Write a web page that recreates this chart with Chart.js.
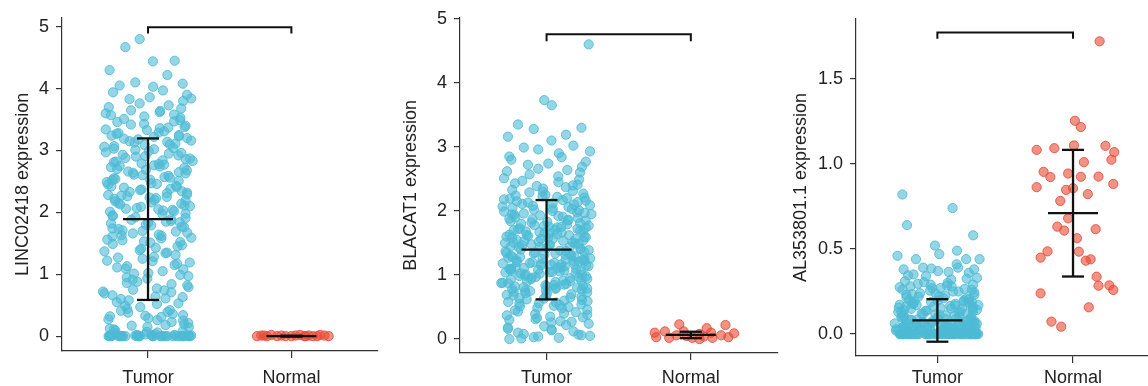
<!DOCTYPE html>
<html>
<head>
<meta charset="utf-8">
<script src="https://cdn.jsdelivr.net/npm/chart.js@4.4.0/dist/chart.umd.min.js"></script>
<style>
  body { margin: 0; width: 1148px; height: 386px; overflow: hidden; background: #fff; position: relative; }
  canvas { position: absolute; top: 0; }
</style>
</head>
<body>
<canvas id="c1" width="383" height="386" style="left:0"></canvas>
<canvas id="c2" width="400" height="386" style="left:383px"></canvas>
<canvas id="c3" width="390" height="386" style="left:770px"></canvas>
<script>
const groups = ['Tumor', 'Normal'];

// ---- panel 1: LINC02418 ----
const p1Ticks = [0, 1, 2, 3, 4, 5];
const p1TumorY = [
  0, 0, 0.01, 0, 0, 0.02, 0, 0, 0, 0.01, 0, 0, 0, 0.03, 0, 0, 0, 0.01, 0, 0,
  0.02, 0, 0, 0, 0, 0.01, 0, 0, 0, 0.02, 0, 0, 0.01, 0, 0, 0, 0, 0.03, 0, 0,
  0.06, 0.12, 0.18, 0.25, 0.33, 0.41, 0.08, 0.15, 0.27, 0.36, 0.44, 0.21, 0.09, 0.31, 0.47,
  0.14, 0.38, 0.23, 0.05, 0.29, 0.42, 0.17, 0.34, 0.11, 0.26, 0.49, 0.19, 0.07, 0.39, 0.32,
  0.52, 0.58, 0.63, 0.66, 0.71, 0.75, 0.82, 0.86, 0.93, 0.97, 0.55, 0.61, 0.69,
  0.74, 0.79, 0.88, 0.95, 0.53, 0.64, 0.72, 0.84, 0.91, 0.99, 0.6, 0.77,
  1.02, 1.08, 1.13, 1.17, 1.22, 1.28, 1.34, 1.39, 1.45, 1.49, 1.05, 1.11, 1.19,
  1.25, 1.31, 1.37, 1.43, 1.01, 1.15, 1.27, 1.35, 1.41, 1.47, 1.09, 1.21,
  1.52, 1.55, 1.58, 1.61, 1.64, 1.67, 1.7, 1.73, 1.76, 1.79, 1.82, 1.85, 1.88, 1.91, 1.94, 1.97, 1.53, 1.59,
  1.63, 1.69, 1.74, 1.8, 1.86, 1.92, 1.98, 1.56, 1.62, 1.71, 1.77, 1.83, 1.89, 1.95, 1.51, 1.66, 1.84,
  2.01, 2.04, 2.07, 2.1, 2.13, 2.16, 2.19, 2.22, 2.25, 2.28, 2.31, 2.34, 2.37, 2.4, 2.43, 2.46, 2.49, 2.02, 2.06, 2.11,
  2.15, 2.2, 2.24, 2.29, 2.33, 2.38, 2.42, 2.47, 2.03, 2.09, 2.14, 2.18, 2.23, 2.27, 2.32, 2.36, 2.41, 2.45, 2.05, 2.26,
  2.51, 2.54, 2.57, 2.6, 2.63, 2.66, 2.69, 2.72, 2.75, 2.78, 2.81, 2.84, 2.87, 2.9, 2.93, 2.96, 2.99, 2.52, 2.56, 2.61,
  2.65, 2.7, 2.74, 2.79, 2.83, 2.88, 2.92, 2.97, 2.53, 2.59, 2.64, 2.68, 2.73, 2.77, 2.82, 2.86, 2.91, 2.95, 2.55, 2.76,
  3.01, 3.04, 3.07, 3.1, 3.13, 3.16, 3.19, 3.22, 3.25, 3.28, 3.31, 3.34, 3.37, 3.4, 3.43, 3.46, 3.49, 3.02,
  3.06, 3.11, 3.15, 3.2, 3.24, 3.29, 3.33, 3.38, 3.42, 3.47, 3.03, 3.09, 3.14, 3.18, 3.23, 3.27, 3.36,
  3.51, 3.53, 3.55, 3.58, 3.6, 3.62, 3.65, 3.68, 3.7, 3.73, 3.76, 3.8, 3.83, 3.86, 3.9, 3.94, 3.97, 3.57, 3.64, 3.84,
  4.8, 4.67, 4.45, 4.44, 4.3, 4.22, 4.1, 4.08, 4.05, 4.03
];
const p1NormalY = [0, 0.01, 0, 0.02, 0, 0.01, 0, 0, 0.01, 0.02, 0, 0.01, 0, 0, 0.02, 0.01, 0, 0.01, 0];
const p1NormalX = [-0.24, -0.21, -0.17, -0.14, -0.1, -0.07, -0.04, 0, 0.03, 0.06, 0.09, 0.12, 0.15, 0.18, 0.2, 0.23, 0.26, -0.19, 0.1];
const p1Mean = [1.89, 0.0];
const p1Sd = [1.305, 0.008];

// ---- panel 2: BLACAT1 ----
const p2Ticks = [0, 1, 2, 3, 4, 5];
const p2TumorY = [
  0.0, 0.02, 0.05, 0.04, 0.08, 0.12, 0.15, 0.18, 0.22, 0.03, 0.06, 0.1, 0.14, 0.2, 0.24, 0.01, 0.07, 0.16,
  0.26, 0.28, 0.31, 0.34, 0.37, 0.4, 0.43, 0.46, 0.49, 0.27, 0.3, 0.35, 0.39, 0.42, 0.45, 0.48, 0.33, 0.38,
  0.51, 0.52, 0.54, 0.55, 0.57, 0.58, 0.6, 0.61, 0.63, 0.64, 0.66, 0.67, 0.69, 0.7, 0.72, 0.73, 0.74,
  0.53, 0.56, 0.59, 0.62, 0.65, 0.68, 0.71, 0.5,
  0.75, 0.77, 0.78, 0.8, 0.81, 0.83, 0.84, 0.86, 0.87, 0.89, 0.9, 0.92, 0.93, 0.95, 0.96, 0.98, 0.99, 0.76,
  0.79, 0.82, 0.85, 0.88, 0.91, 0.94, 0.97, 0.755, 0.805, 0.845, 0.875, 0.905, 0.935, 0.965, 0.985, 0.785, 0.825,
  1.0, 1.01, 1.03, 1.04, 1.05, 1.07, 1.08, 1.09, 1.1, 1.12, 1.13, 1.14, 1.15, 1.17, 1.18, 1.19, 1.2, 1.22, 1.23, 1.24,
  1.02, 1.06, 1.11, 1.16, 1.21, 1.025, 1.055, 1.085, 1.115, 1.145, 1.175, 1.205, 1.235, 1.045, 1.095, 1.135, 1.185, 1.215, 1.065, 1.165,
  1.25, 1.26, 1.28, 1.29, 1.3, 1.32, 1.33, 1.34, 1.36, 1.37, 1.38, 1.4, 1.41, 1.42, 1.44, 1.45, 1.46, 1.48,
  1.49, 1.27, 1.31, 1.35, 1.39, 1.43, 1.47, 1.255, 1.285, 1.315, 1.345, 1.375, 1.405, 1.435, 1.465, 1.495, 1.335,
  1.5, 1.51, 1.53, 1.54, 1.55, 1.57, 1.58, 1.59, 1.61, 1.62, 1.63, 1.65, 1.66, 1.67, 1.69, 1.7, 1.71, 1.73,
  1.74, 1.52, 1.56, 1.6, 1.64, 1.68, 1.72, 1.505, 1.535, 1.565, 1.595, 1.625, 1.655, 1.685, 1.715, 1.745, 1.585,
  1.75, 1.77, 1.78, 1.8, 1.81, 1.83, 1.84, 1.86, 1.87, 1.89, 1.9, 1.92, 1.93, 1.95,
  1.96, 1.98, 1.99, 1.76, 1.79, 1.82, 1.85, 1.88, 1.91, 1.94, 1.97, 1.765, 1.855, 1.945,
  2.0, 2.02, 2.03, 2.05, 2.06, 2.08, 2.09, 2.11, 2.12, 2.14, 2.15, 2.17, 2.18,
  2.2, 2.21, 2.23, 2.24, 2.01, 2.04, 2.07, 2.1, 2.13, 2.16, 2.19, 2.22,
  2.25, 2.27, 2.29, 2.31, 2.33, 2.35, 2.37, 2.39, 2.41, 2.43, 2.45, 2.47, 2.49, 2.3, 2.4,
  2.51, 2.54, 2.57, 2.6, 2.62, 2.64, 2.66, 2.69, 2.72, 2.74,
  2.77, 2.8, 2.84, 2.85, 2.9, 2.93, 2.96, 2.99,
  3.02, 3.1, 3.16, 3.19, 3.28, 3.3, 3.35,
  3.65, 3.73, 4.6
];
const p2NormalY = [0.10, 0.03, 0.12, 0.02, 0.06, 0.23, 0.05, 0.02, 0.08, 0.04, 0.17, 0.10, 0.02, 0.06, 0.22, 0.03, 0.09, 0.12, 0.0];
const p2NormalX = [-0.25, -0.24, -0.18, -0.15, -0.1, -0.08, -0.03, 0.01, 0.06, 0.09, 0.11, 0.14, 0.15, 0.21, 0.24, 0.26, 0.3, -0.05, 0.06];
const p2Mean = [1.395, 0.065];
const p2Sd = [0.775, 0.05];

// ---- panel 3: AL353801.1 ----
const p3Ticks = [0, 0.5, 1.0, 1.5];
const p3TumorY = [
  0, 0, 0, 0, 0, 0, 0, 0, 0, 0, 0, 0, 0, 0, 0, 0, 0, 0, 0, 0,
  0, 0, 0, 0, 0, 0, 0, 0, 0, 0, 0, 0, 0, 0, 0, 0, 0, 0, 0, 0,
  0, 0, 0, 0, 0, 0, 0, 0, 0, 0, 0, 0, 0, 0, 0, 0, 0, 0, 0, 0,
  0.01, 0.02, 0.03, 0.04, 0.05, 0.06, 0.07, 0.08, 0.09, 0.1,
  0.015, 0.025, 0.035, 0.045, 0.055, 0.065, 0.075, 0.085, 0.095, 0.012,
  0.018, 0.022, 0.028, 0.033, 0.038, 0.042, 0.048, 0.052, 0.058, 0.062,
  0.068, 0.072, 0.078, 0.082, 0.088, 0.092, 0.098, 0.011, 0.016, 0.021,
  0.026, 0.031, 0.036, 0.041, 0.046, 0.051, 0.056, 0.061, 0.066, 0.071,
  0.02, 0.03, 0.04, 0.05, 0.06, 0.01, 0.02, 0.03, 0.04, 0.05,
  0.014, 0.024, 0.034, 0.044, 0.054, 0.064, 0.074, 0.084, 0.094, 0.019,
  0.1, 0.11, 0.12, 0.13, 0.14, 0.15, 0.16, 0.17, 0.18, 0.19,
  0.105, 0.115, 0.125, 0.135, 0.145, 0.155, 0.165, 0.175, 0.185, 0.195,
  0.102, 0.108, 0.112, 0.118, 0.122, 0.128, 0.132, 0.138, 0.142, 0.148,
  0.152, 0.158, 0.162, 0.168, 0.172, 0.178, 0.182, 0.188, 0.192, 0.198,
  0.11, 0.13, 0.15, 0.17, 0.19,
  0.2, 0.21, 0.22, 0.23, 0.24, 0.25, 0.26, 0.27, 0.28, 0.29,
  0.205, 0.215, 0.225, 0.235, 0.245, 0.255, 0.265, 0.275, 0.285, 0.295,
  0.21, 0.23, 0.25, 0.27, 0.29, 0.22, 0.24, 0.26, 0.28, 0.3,
  0.31, 0.32, 0.33, 0.34, 0.35, 0.36, 0.37, 0.38, 0.39, 0.305, 0.325, 0.345, 0.365, 0.385,
  0.44, 0.44, 0.44, 0.46, 0.47, 0.41, 0.39, 0.38,
  0.82, 0.74, 0.64, 0.58, 0.52, 0.49
];
const p3NormalY = [
  1.72, 1.253, 1.216, 1.082, 1.092, 1.108, 1.106, 1.069, 1.024, 1.01,
  0.953, 0.922, 0.943, 0.924, 0.925, 0.882, 0.863, 0.847, 0.857, 0.822,
  0.782, 0.68, 0.631, 0.608, 0.616, 0.563, 0.486, 0.449, 0.484, 0.431,
  0.439, 0.337, 0.284, 0.286, 0.259, 0.239, 0.157, 0.073, 0.043
];
const p3NormalX = [
  0.196, 0.014, 0.058, -0.268, -0.138, 0.007, 0.239, 0.304, 0.283, 0.08,
  -0.217, -0.167, -0.036, 0.058, 0.188, 0.297, -0.268, -0.051, 0, 0.109,
  -0.094, -0.036, -0.116, -0.065, 0.167, 0.029, -0.188, -0.239, 0.043, 0.094,
  0.13, 0.174, 0.188, 0.268, 0.297, -0.239, 0.116, -0.159, -0.087
];
const p3Mean = [0.08, 0.71];
const p3Sd = [0.125, 0.372];

// horizontal jitter for the large tumour groups: a coarse and a fine offset list
const jitterCoarse = [-0.27, 0.11, 0.27, -0.05, -0.18, 0.22, 0.03, -0.28, 0.16, -0.12, 0.25, -0.22, 0.07, -0.02, 0.28,
  -0.15, 0.19, -0.26, 0.01, 0.13, -0.08, 0.24, -0.25, 0.09, -0.19, 0.26, -0.03, 0.17, -0.27, 0.05, -0.11, 0.21,
  -0.24, 0.14, -0.07, 0.27, -0.16, 0.02, 0.25, -0.21, 0.1];
const jitterFine = [0.012, -0.025, 0.031, -0.008, 0.022, -0.034, 0.004];

const TEXT = '#222';
const FONT = "'Liberation Sans', Arial, sans-serif";
const blue = 'rgba(77,187,213,0.6)', blueEdge = 'rgba(77,187,213,0.85)';
const red = 'rgba(230,75,53,0.6)', redEdge = 'rgba(230,75,53,0.85)';

const overlay = {
  id: 'overlay',
  afterDatasetsDraw(chart, args, o) {
    const { ctx, scales: { x, y } } = chart;
    const seg = (x1, y1, x2, y2) => { ctx.beginPath(); ctx.moveTo(x1, y1); ctx.lineTo(x2, y2); ctx.stroke(); };
    ctx.save();
    ctx.strokeStyle = '#111';
    ctx.lineWidth = 2.3;
    o.mean.forEach((m, i) => {
      const cx = x.getPixelForValue(i);
      const ym = y.getPixelForValue(m);
      const yt = y.getPixelForValue(m + o.sd[i]);
      const yb = y.getPixelForValue(m - o.sd[i]);
      seg(cx, yt, cx, yb);
      seg(cx - 11, yt, cx + 11, yt);
      seg(cx - 11, yb, cx + 11, yb);
      seg(cx - 25, ym, cx + 25, ym);
    });
    // significance bracket
    ctx.lineWidth = 2;
    const bt = y.getPixelForValue(o.bracket[0]), bl = y.getPixelForValue(o.bracket[1]);
    const x0 = x.getPixelForValue(0), x1 = x.getPixelForValue(1);
    ctx.beginPath();
    ctx.moveTo(x0, bl); ctx.lineTo(x0, bt); ctx.lineTo(x1, bt); ctx.lineTo(x1, bl);
    ctx.stroke();
    ctx.restore();
  }
};

function makePanel(id, cfg) {
  const tumorPts = cfg.tumorY.map((v, i) => ({
    x: jitterCoarse[i % jitterCoarse.length] + jitterFine[i % jitterFine.length], y: v
  }));
  const normalPts = cfg.normalY.map((v, i) => ({ x: 1 + cfg.normalX[i], y: v }));
  new Chart(document.getElementById(id), {
    type: 'scatter',
    data: {
      datasets: [
        { data: tumorPts, backgroundColor: blue, borderColor: blueEdge, borderWidth: 1, pointRadius: 4.6 },
        { data: normalPts, backgroundColor: red, borderColor: redEdge, borderWidth: 1, pointRadius: 4.6 }
      ]
    },
    options: {
      responsive: false,
      animation: false,
      layout: { padding: { top: cfg.top, right: cfg.right, left: 0, bottom: 0 } },
      plugins: {
        legend: { display: false },
        tooltip: { enabled: false },
        overlay: { mean: cfg.mean, sd: cfg.sd, bracket: cfg.bracket }
      },
      scales: {
        x: {
          type: 'linear', min: -0.6, max: 1.6,
          afterBuildTicks: s => { s.ticks = [{ value: 0 }, { value: 1 }]; },
          afterFit: s => { s.height = 386 - cfg.bottom; },
          ticks: { callback: v => groups[v], color: TEXT, font: { family: FONT, size: 18 }, padding: cfg.labelPad, maxRotation: 0 },
          grid: { drawOnChartArea: false, drawTicks: true, tickLength: 7, color: '#333', lineWidth: 1.2 },
          border: { display: true, color: '#333', width: 1.2 }
        },
        y: {
          min: cfg.yMin, max: cfg.yMax,
          afterBuildTicks: s => { s.ticks = cfg.ticks.map(v => ({ value: v })); },
          afterFit: s => { s.width = cfg.left; },
          ticks: { callback: v => cfg.fmt(v), color: TEXT, font: { family: FONT, size: 18 }, padding: 7 },
          grid: { drawOnChartArea: false, drawTicks: true, tickLength: 6, color: '#333', lineWidth: 1.2 },
          border: { display: true, color: '#333', width: 1.2 },
          title: { display: true, text: cfg.title, color: TEXT, font: { family: FONT, size: 18 }, padding: { top: cfg.titlePad, bottom: 0 } }
        }
      }
    },
    plugins: [overlay]
  });
}

makePanel('c1', {
  tumorY: p1TumorY, normalY: p1NormalY, normalX: p1NormalX, mean: p1Mean, sd: p1Sd,
  bracket: [4.99, 4.89], ticks: p1Ticks, fmt: v => String(v),
  yMin: -0.24, yMax: 5.144, title: 'LINC02418 expression',
  left: 62, top: 15, right: 4, bottom: 351, titlePad: 12, labelPad: 9
});
makePanel('c2', {
  tumorY: p2TumorY, normalY: p2NormalY, normalX: p2NormalX, mean: p2Mean, sd: p2Sd,
  bracket: [4.76, 4.65], ticks: p2Ticks, fmt: v => String(v),
  yMin: -0.217, yMax: 5.015, title: 'BLACAT1 expression',
  left: 77, top: 16, right: 4, bottom: 353, titlePad: 17, labelPad: 7
});
makePanel('c3', {
  tumorY: p3TumorY, normalY: p3NormalY, normalX: p3NormalX, mean: p3Mean, sd: p3Sd,
  bracket: [1.772, 1.735], ticks: p3Ticks, fmt: v => v.toFixed(1),
  yMin: -0.129, yMax: 1.851, title: 'AL353801.1 expression',
  left: 86, top: 19, right: 0, bottom: 356, titlePad: 20, labelPad: 4
});
</script>
</body>
</html>
